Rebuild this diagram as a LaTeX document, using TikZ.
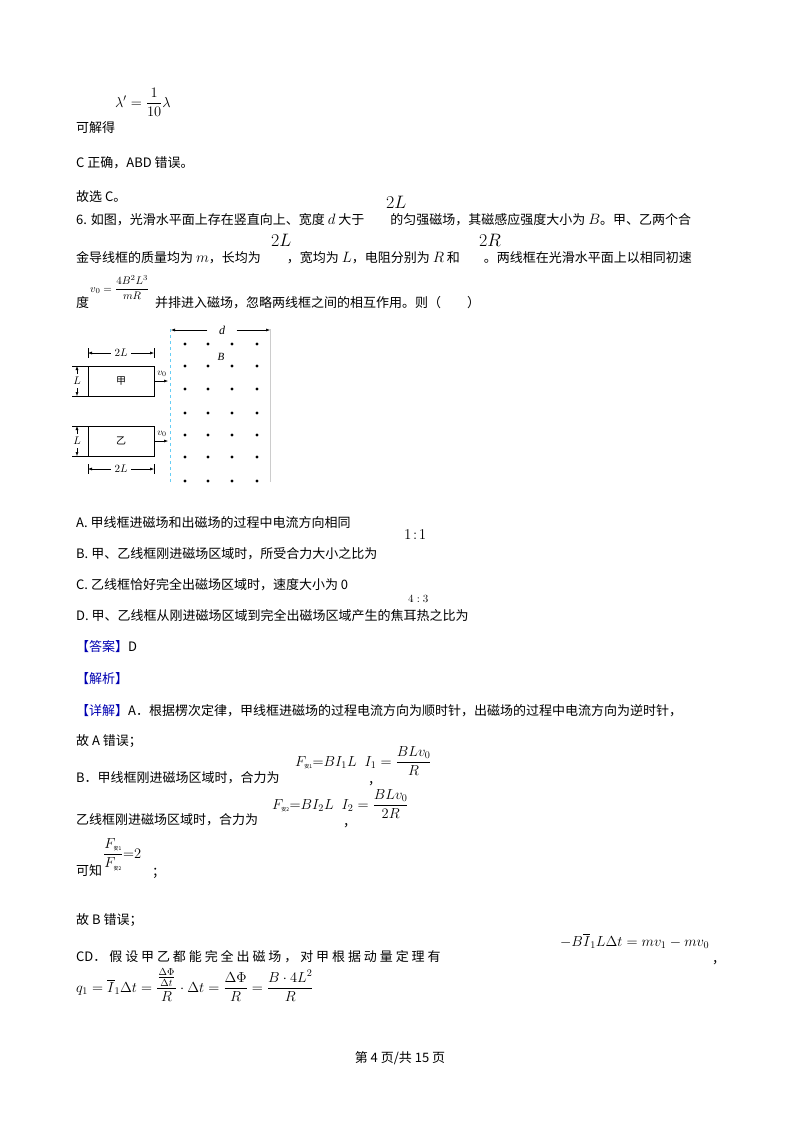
\documentclass[tikz,border=0pt]{standalone}
\usepackage{fix-cm}
\usepackage{fontspec}
\usepackage{amsmath}
\setmainfont{Liberation Serif}
\newfontfamily\cjk{Noto Sans CJK SC}
\newcommand\mv[1]{{\fontsize{15}{15}\selectfont$#1$}}
\usetikzlibrary{arrows.meta}
\begin{document}
\begin{tikzpicture}[x=1pt,y=-1pt,
  txt/.style={anchor=base west,inner sep=0pt,font=\fontsize{13}{15}\selectfont\cjk},
  fm/.style={anchor=base west,inner sep=0pt,font=\fontsize{14.5}{16}\selectfont},
  dot/.style={circle,fill=black,inner sep=0pt,minimum size=3.2pt},
  dim/.style={-{Latex[length=4pt,width=3pt]},line width=0.5pt},
  fr/.style={draw,line width=0.6pt,minimum width=66pt,minimum height=30pt,inner sep=0pt,font=\fontsize{10}{12}\selectfont\cjk}]
\useasboundingbox (0,0) rectangle (800,1132);
\fill[white] (0,0) rectangle (800,1132);
% top
\node[fm] (lam) at (115,107) {$\lambda' = \dfrac{1}{10}\lambda$};
\node[txt] (t1) at (76,132) {可解得};
\node[txt] (t2) at (76,167) {C 正确，ABD 错误。};
\node[txt] (t3) at (76,201) {故选 C。};
\node[txt] (t4) at (76,224) {6. 如图，光滑水平面上存在竖直向上、宽度 \mv{d} 大于\hspace{26pt}的匀强磁场，其磁感应强度大小为 \mv{B}。甲、乙两个合};
\node[fm,font=\fontsize{18}{18}\selectfont] (f2L) at (386,208) {$2L$};
\node[txt] (t5) at (76,262) {金导线框的质量均为 \mv{m}，长均为\hspace{26pt}，宽均为 \mv{L}，电阻分别为 \mv{R} 和\hspace{24pt}。两线框在光滑水平面上以相同初速};
\node[fm,font=\fontsize{18}{18}\selectfont] (f2L2) at (271,246) {$2L$};
\node[fm,font=\fontsize{18}{18}\selectfont] (f2R) at (479,246) {$2R$};
\node[txt] (t6) at (76,307) {度};
\node[fm,font=\fontsize{11}{12}\selectfont] (v0f) at (90,292) {$v_0=\dfrac{4B^2L^3}{mR}$};
\node[txt] (t7) at (155,307) {并排进入磁场，忽略两线框之间的相互作用。则（\hspace{26pt}）};
% figure
\draw[cyan!60,dashed,line width=0.8pt] (170,329) -- (170,482);
\draw[gray!40,line width=0.4pt] (270,329) -- (270,482);
\foreach \x in {185,208,232,257}{\foreach \y in {344,366,389,413,435,457,481}{\node[dot] at (\x,\y) {};}}
\node[font=\fontsize{11}{12}\selectfont\itshape] (Bl) at (221,357) {B};
\node[font=\fontsize{12}{12}\selectfont\itshape] (dl) at (222,330) {d};
\coordinate (dl1) at (171,330); \coordinate (dr1) at (270,330);
\draw[dim] (dl.west) ++(-8,0) -- (dl1);
\draw[dim] (dl.east) ++(8,0) -- (dr1);
\node[fr] (jia) at (121,381) {甲};
\node[fr] (yi) at (121,441) {乙};
\coordinate (a1) at (168,381); \coordinate (a2) at (168,441);
\draw[dim] (jia.east) -- (a1);
\draw[dim] (yi.east) -- (a2);
\node[font=\fontsize{10}{10}\selectfont] at (162,374) {$v_0$};
\node[font=\fontsize{10}{10}\selectfont] at (162,434) {$v_0$};
% 2L dims
\foreach \yy/\nm in {353/top,469/bot}{
  \node[font=\fontsize{11}{12}\selectfont] (L\nm) at (121,\yy) {$2L$};
  \draw (88,\yy-5) -- (88,\yy+5); \draw (154,\yy-5) -- (154,\yy+5);
  \coordinate (l\nm) at (88,\yy); \coordinate (r\nm) at (154,\yy);
  \draw[dim] (L\nm.west) -- (l\nm); \draw[dim] (L\nm.east) -- (r\nm);}
\foreach \yc/\nm in {381/a,441/b}{
  \draw (72,\yc-15) -- (88,\yc-15); \draw (72,\yc+15) -- (88,\yc+15);
  \node[font=\fontsize{11}{12}\selectfont] (Ld\nm) at (77,\yc) {$L$};
  \coordinate (u\nm) at (77,\yc-15); \coordinate (w\nm) at (77,\yc+15);
  \draw[dim] (Ld\nm.north) -- (u\nm); \draw[dim] (Ld\nm.south) -- (w\nm);}
% options
\node[txt] (oA) at (76,527) {A.\ 甲线框进磁场和出磁场的过程中电流方向相同};
\node[txt] (oB) at (76,558) {B.\ 甲、乙线框刚进磁场区域时，所受合力大小之比为};
\node[fm,font=\fontsize{15}{15}\selectfont] (r11) at (404,539) {$1\!:\!1$};
\node[txt] (oC) at (76,589) {C.\ 乙线框恰好完全出磁场区域时，速度大小为 0};
\node[txt] (oD) at (76,620) {D.\ 甲、乙线框从刚进磁场区域到完全出磁场区域产生的焦耳热之比为};
\node[fm,font=\fontsize{11}{12}\selectfont] (r43) at (408,602) {$4:3$};
\node[txt] (ans) at (76,651) {{\color{blue!70!black}【答案】}D};
\node[txt] (jx) at (76,683) {{\color{blue!70!black}【解析】}};
\node[txt] (xj) at (76,715) {{\color{blue!70!black}【详解】}A．根据楞次定律，甲线框进磁场的过程电流方向为顺时针，出磁场的过程中电流方向为逆时针，};
\node[txt] (gA) at (76,745) {故 A 错误；};
\node[txt] (lB) at (76,782) {B．甲线框刚进磁场区域时，合力为};
\node[fm] (fB1) at (295,766) {$F_{\text{\cjk\tiny 安1}}{=}BI_1L$\hspace{8pt}$I_1=\dfrac{BLv_0}{R}$};
\node[txt] (c1) at (368,784) {，};
\node[txt] (lY) at (76,824) {乙线框刚进磁场区域时，合力为};
\node[fm] (fB2) at (272,809) {$F_{\text{\cjk\tiny 安2}}{=}BI_2L$\hspace{8pt}$I_2=\dfrac{BLv_0}{2R}$};
\node[txt] (c2) at (343,826) {，};
\node[txt] (kz) at (76,875) {可知};
\node[fm] (fr) at (103,858) {$\dfrac{F_{\text{\cjk\tiny 安1}}}{F_{\text{\cjk\tiny 安2}}}{=}2$};
\node[txt] (sc) at (152,876) {；};
\node[txt] (gB) at (76,924) {故 B 错误；};
\node[txt] (cd) at (76,961) {CD．\ 假\ 设\ 甲\ 乙\ 都\ 能\ 完\ 全\ 出\ 磁\ 场\ ，\ 对\ 甲\ 根\ 据\ 动\ 量\ 定\ 理\ 有};
\node[fm] (mom) at (560,946) {$-B\overline{I}_1L\Delta t=mv_1-mv_0$};
\node[txt] (cm) at (712,963) {，};
\node[fm] (q1) at (76,992) {$q_1=\overline{I}_1\Delta t=\dfrac{\frac{\Delta\Phi}{\Delta t}}{R}\cdot\Delta t=\dfrac{\Delta\Phi}{R}=\dfrac{B\cdot4L^2}{R}$};
\node[txt,anchor=base] (ft) at (400,1062) {第 4 页/共 15 页};
\end{tikzpicture}
\end{document}
